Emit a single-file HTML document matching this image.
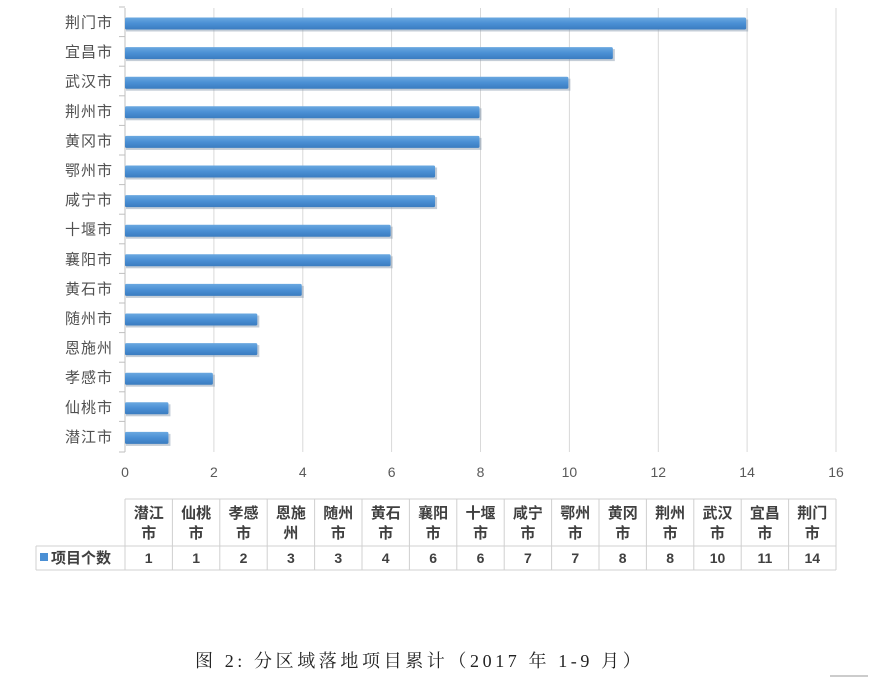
<!DOCTYPE html><html><head><meta charset="utf-8"><style>
body{margin:0;width:875px;height:677px;background:#fff;overflow:hidden;font-family:"Liberation Sans","Noto Sans CJK SC",sans-serif}
</style></head><body>
<svg width="875" height="677" xmlns="http://www.w3.org/2000/svg">
<defs><linearGradient id="g" x1="0" y1="0" x2="0" y2="1"><stop offset="0" stop-color="#6aa8e0"/><stop offset="0.5" stop-color="#4a8fd4"/><stop offset="1" stop-color="#3a7cc0"/></linearGradient></defs>
<g stroke="#d9d9d9" stroke-width="1">
<line x1="213.9" y1="8" x2="213.9" y2="452"/><line x1="302.8" y1="8" x2="302.8" y2="452"/><line x1="391.6" y1="8" x2="391.6" y2="452"/><line x1="480.5" y1="8" x2="480.5" y2="452"/><line x1="569.4" y1="8" x2="569.4" y2="452"/><line x1="658.3" y1="8" x2="658.3" y2="452"/><line x1="747.1" y1="8" x2="747.1" y2="452"/><line x1="836" y1="8" x2="836" y2="452"/>
</g>
<line x1="125" y1="8" x2="125" y2="452" stroke="#bfbfbf"/>
<g font-size="15" fill="#505050" text-anchor="end" id="lbl" letter-spacing="1"></g>
<g id="bars"></g>
<g font-size="14" fill="#595959" text-anchor="middle">
<text x="125" y="477">0</text><text x="213.9" y="477">2</text><text x="302.8" y="477">4</text><text x="391.6" y="477">6</text><text x="480.5" y="477">8</text><text x="569.4" y="477">10</text><text x="658.3" y="477">12</text><text x="747.1" y="477">14</text><text x="836" y="477">16</text>
</g>
<g id="tbl" stroke="#d0d0d0" fill="none"></g>
<g id="tt" font-weight="bold" font-size="15" fill="#404040" text-anchor="middle"></g>
<rect x="40" y="553" width="8" height="8" fill="#4a8fd4"/>
<text x="51" y="563" font-size="15" font-weight="bold" fill="#404040">项目个数</text>
<text x="195" y="667" font-size="18" fill="#222" font-family="'Liberation Serif','Noto Serif CJK SC',serif" letter-spacing="3.6">图 2: 分区域落地项目累计（2017 年 1-9 月）</text>
<line x1="830" y1="676" x2="868" y2="676" stroke="#999"/>
</svg>
<script>
const n=["荆门市","宜昌市","武汉市","荆州市","黄冈市","鄂州市","咸宁市","十堰市","襄阳市","黄石市","随州市","恩施州","孝感市","仙桃市","潜江市"];
const v=[14,11,10,8,8,7,7,6,6,4,3,3,2,1,1];
const S="http://www.w3.org/2000/svg";let L=document.getElementById("lbl"),B=document.getElementById("bars");
function el(p,t,a,tx){let e=document.createElementNS(S,t);for(let k in a)e.setAttribute(k,a[k]);if(tx)e.textContent=tx;p.appendChild(e);return e;}
n.forEach((c,i)=>{let y=22+i*29.6;el(L,"text",{x:113,y:y+5.5},c);
let by=y+2;
el(B,"rect",{x:126,y:by-4.5,width:v[i]*44.44,height:12,fill:"#8a9bb0",opacity:.5});
el(B,"rect",{x:125,y:by-6.5,width:v[i]*44.44-1,height:12,fill:"url(#g)",rx:1.5});
el(B,"line",{x1:119,y1:y-15,x2:125,y2:y-15,stroke:"#bfbfbf"});});
el(B,"line",{x1:119,y1:452,x2:125,y2:452,stroke:"#bfbfbf"});
let T=document.getElementById("tbl"),TT=document.getElementById("tt");
el(T,"line",{x1:125,y1:499,x2:836,y2:499});el(T,"line",{x1:36,y1:546,x2:836,y2:546});el(T,"line",{x1:36,y1:570,x2:836,y2:570});el(T,"line",{x1:36,y1:546,x2:36,y2:570});
for(let j=0;j<=15;j++){let x=125+j*47.4;el(T,"line",{x1:x,y1:499,x2:x,y2:570});}
for(let j=0;j<15;j++){let i=14-j,x=125+j*47.4+23.7,c=n[i];el(TT,"text",{x:x,y:518},c.slice(0,2));el(TT,"text",{x:x,y:538},c.slice(2));el(TT,"text",{x:x,y:563,"font-size":14},v[i]);}
</script>
</body></html>
